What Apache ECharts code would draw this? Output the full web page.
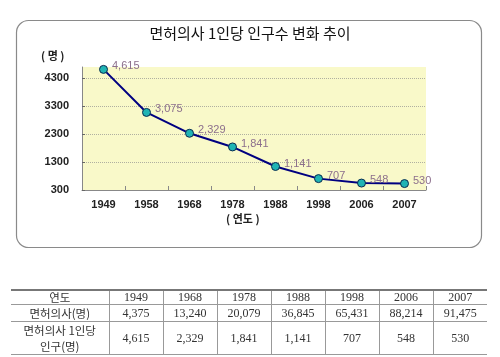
<!DOCTYPE html>
<html><head><meta charset="utf-8">
<script src="https://cdn.jsdelivr.net/npm/echarts@6/dist/echarts.min.js"></script>
<style>
html,body{margin:0;padding:0;background:#fff;}
#chart{position:absolute;left:0;top:0;width:500px;height:357px;}
#tbl{position:absolute;left:11px;top:289px;border-collapse:collapse;table-layout:fixed;
 font-family:'Liberation Serif','Noto Sans CJK KR',serif;font-size:12px;color:#333;}
#tbl td{padding:0;text-align:center;vertical-align:middle;border-left:1px solid #999;border-bottom:1px solid #999;white-space:nowrap;}
#tbl td:first-child{border-left:none;}
#tbl tr:first-child td{border-top:2px solid #777;}
.kr{font-family:'Noto Sans CJK KR',sans-serif;font-size:11.5px;}
</style>
</head><body>
<div id="chart"></div>
<table id="tbl"></table>
<script>
// chart data
const years = ['1949','1958','1968','1978','1988','1998','2006','2007'];
const perDoctor = [4615, 3075, 2329, 1841, 1141, 707, 548, 530];
const yTickMin = 300, yTickMax = 4700, yTickStep = 1000;
const titleText = '면허의사 1인당 인구수 변화 추이';
const yUnit = '( 명 )';
const xUnit = '( 연도 )';

// table data
const tblYears = ['1949','1968','1978','1988','1998','2006','2007'];
const tblDoctors = [4375, 13240, 20079, 36845, 65431, 88214, 91475];
const tblPerDoctor = [4615, 2329, 1841, 1141, 707, 548, 530];
const rowHeads = ['연도', '면허의사(명)', '면허의사 1인당<br>인구(명)'];

const fmt = v => v.toLocaleString('en-US');

const chart = echarts.init(document.getElementById('chart'), null, {renderer:'canvas'});
chart.setOption({
  animation:false,
  backgroundColor:'#fff',
  textStyle:{fontFamily:"'Liberation Sans','Noto Sans CJK KR',sans-serif"},
  graphic:[
    {type:'rect', z:-10, shape:{x:16.5,y:20.5,width:465,height:227,r:12},
     style:{fill:'#fff',stroke:'#8a8a8a',lineWidth:1.2}},
    {type:'text', left:'center', top:26, style:{text:titleText, fill:'#111',
     font:"15px 'Noto Sans CJK KR', sans-serif"}},
    {type:'text', left:41, top:50, style:{text:yUnit, fill:'#222',
     font:"bold 11px 'Noto Sans CJK KR', sans-serif"}},
    {type:'text', left:226, top:213, style:{text:xUnit, fill:'#222',
     font:"bold 11px 'Noto Sans CJK KR', sans-serif"}}
  ],
  grid:{left:82, top:67, right:74, bottom:167, show:true, backgroundColor:'#f9f9c9', borderWidth:0},
  xAxis:{type:'category', data:years, boundaryGap:true,
    axisLine:{lineStyle:{color:'#888', width:1}},
    axisTick:{show:true, inside:true, length:4, lineStyle:{color:'#888'}},
    axisLabel:{margin:9, fontSize:11, fontWeight:'bold', color:'#222'}},
  yAxis:{type:'value', min:yTickMin, max:yTickMax, interval:yTickStep,
    axisLine:{show:true, lineStyle:{color:'#888', width:1}},
    axisTick:{show:true, inside:true, length:3, lineStyle:{color:'#666'}},
    axisLabel:{margin:13, fontSize:11, fontWeight:'bold', color:'#222', showMaxLabel:false,
      formatter:v=>String(v)},
    splitLine:{show:true, lineStyle:{type:'dotted', width:1,
      color:['rgba(0,0,0,0)','#b0b0a0','#b0b0a0','#b0b0a0','#b0b0a0','rgba(0,0,0,0)']}}},
  series:[{
    type:'line', data:perDoctor, z:5,
    symbol:'circle', symbolSize:8,
    lineStyle:{color:'#000080', width:2},
    itemStyle:{color:'#20b4b4', borderColor:'#0a2a50', borderWidth:1},
    label:{show:true, position:'right', distance:4, offset:[0,-3],
      color:'#8c6f8c', fontSize:11, formatter:p=>fmt(p.value)}
  }]
});

// table
const tbl = document.getElementById('tbl');
const colW = [98,54,54,54,54,54,54,54];
let cg = '<colgroup>' + colW.map(w=>`<col style="width:${w}px">`).join('') + '</colgroup>';
const rows = [
  {h:13, cells:tblYears},
  {h:16, cells:tblDoctors.map(fmt)},
  {h:32, cells:tblPerDoctor.map(fmt)}
];
let html = cg;
rows.forEach((r,i)=>{
  html += `<tr style="height:${r.h}px"><td class="kr" style="line-height:${i==2?16:r.h}px">${rowHeads[i]}</td>` +
    r.cells.map(c=>`<td style="line-height:${r.h}px">${c}</td>`).join('') + '</tr>';
});
tbl.innerHTML = html;
</script>
</body></html>
